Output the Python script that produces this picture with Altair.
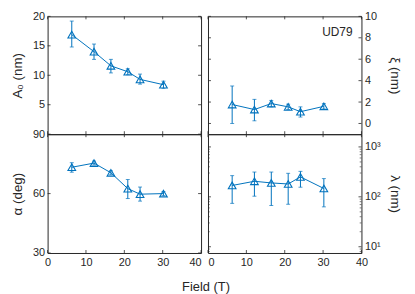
import altair as alt
import pandas as pd

# ---- data ----
field = [6.3, 12.1, 16.5, 20.9, 24.1, 30.2]

A0 = [16.9, 14.0, 11.6, 10.6, 9.3, 8.4]
A0_lo = [14.8, 12.7, 10.4, 10.1, 8.5, 7.8]
A0_hi = [19.2, 15.3, 12.7, 11.1, 10.2, 9.0]

xi = [1.77, 1.3, 1.86, 1.55, 1.1, 1.6]
xi_lo = [0.0, 0.25, 1.55, 1.3, 0.6, 1.35]
xi_hi = [3.5, 2.25, 2.15, 1.8, 1.55, 1.85]

alpha = [73.3, 75.4, 70.5, 62.5, 59.7, 60.0]
alpha_lo = [70.8, 74.4, 69.5, 57.5, 56.2, 59.0]
alpha_hi = [75.6, 76.4, 71.5, 67.1, 63.3, 61.0]

lam = [169, 205, 190, 181, 251, 147]
lam_lo = [74, 103, 67, 71, 156, 63]
lam_hi = [266, 314, 314, 296, 324, 232]

x_ticks = [0, 10, 20, 30, 40]
A0_ticks = [5, 10, 15, 20]
xi_ticks = [0, 2, 4, 6, 8, 10]
alpha_ticks = [30, 60, 90]
lam_major = [10, 100, 1000]
lam_minor = [8, 9, 20, 30, 40, 50, 60, 70, 80, 90,
             200, 300, 400, 500, 600, 700, 800, 900]

BLUE = "#0072BD"
TXT = "#262626"
FONT = "Liberation Sans"
W = 155
H_TOP = 119
H_BOT = 120

xscale = alt.Scale(domain=[0, 40], nice=False, zero=False)


def panel(vals, lo, hi, yscale, yaxis, yticks, height, xaxis, minor=None, note=None):
    df = pd.DataFrame({"field": field, "v": vals, "lo": lo, "hi": hi})
    base = alt.Chart(df)

    def X(f):
        return alt.X(f, scale=xscale, axis=xaxis)

    def Y(f):
        return alt.Y(f, scale=yscale, axis=yaxis)

    line = base.mark_line(color=BLUE, strokeWidth=1).encode(x=X("field:Q"), y=Y("v:Q"))
    err = base.mark_rule(color=BLUE, strokeWidth=1).encode(
        x=X("field:Q"), y=Y("lo:Q"), y2="hi:Q")
    cap_lo = base.mark_tick(color=BLUE, orient="horizontal", size=4, thickness=1).encode(
        x=X("field:Q"), y=Y("lo:Q"))
    cap_hi = base.mark_tick(color=BLUE, orient="horizontal", size=4, thickness=1).encode(
        x=X("field:Q"), y=Y("hi:Q"))
    pts = base.mark_point(shape="triangle-up", filled=False, color=BLUE,
                          size=60, strokeWidth=1.1, opacity=1).encode(
        x=X("field:Q"), y=Y("v:Q"))

    xt = alt.Chart(pd.DataFrame({"t": x_ticks}))
    xt_b = xt.mark_rule(color=TXT, strokeWidth=0.8).encode(
        x=X("t:Q"), y=alt.value(height), y2=alt.value(height - 3))
    xt_t = xt.mark_rule(color=TXT, strokeWidth=0.8).encode(
        x=X("t:Q"), y=alt.value(0), y2=alt.value(3))
    yt = alt.Chart(pd.DataFrame({"t": yticks}))
    yt_l = yt.mark_rule(color=TXT, strokeWidth=0.8).encode(
        y=Y("t:Q"), x=alt.value(0), x2=alt.value(3))
    yt_r = yt.mark_rule(color=TXT, strokeWidth=0.8).encode(
        y=Y("t:Q"), x=alt.value(W), x2=alt.value(W - 3))
    layers = [line, err, cap_lo, cap_hi, pts, xt_b, xt_t, yt_l, yt_r]
    if minor is not None:
        mt = alt.Chart(pd.DataFrame({"t": minor}))
        layers.append(mt.mark_rule(color=TXT, strokeWidth=0.6).encode(
            y=Y("t:Q"), x=alt.value(0), x2=alt.value(1.8)))
        layers.append(mt.mark_rule(color=TXT, strokeWidth=0.6).encode(
            y=Y("t:Q"), x=alt.value(W), x2=alt.value(W - 1.8)))
    if note is not None:
        layers.append(alt.Chart(pd.DataFrame({"s": [note]})).mark_text(
            align="right", baseline="alphabetic", fontSize=12, font=FONT,
            color=TXT).encode(text="s:N", x=alt.value(W - 9), y=alt.value(20)))
    return alt.layer(*layers).properties(width=W, height=height)


left_axis = dict(orient="left", ticks=False, domain=False, grid=False,
                 labelPadding=3, minExtent=17, maxExtent=17, titlePadding=6)
right_axis = dict(orient="right", ticks=False, domain=False, grid=False,
                  labelPadding=3, minExtent=16, maxExtent=16, titlePadding=10)
bottom_left_axis = alt.Axis(
    values=x_ticks, ticks=False, domain=False, grid=False, labelPadding=4,
    labelFlush=False, title=None,
    labelAlign=alt.condition("datum.value == 40", alt.value("right"), alt.value("center")))
bottom_right_axis = alt.Axis(
    values=x_ticks, ticks=False, domain=False, grid=False, labelPadding=4,
    labelFlush=False, title=None,
    labelAlign=alt.condition("datum.value == 0", alt.value("left"), alt.value("center")))

tl = panel(A0, A0_lo, A0_hi,
           alt.Scale(domain=[0, 20], nice=False, zero=False),
           alt.Axis(title="A₀ (nm)", values=A0_ticks, **left_axis),
           A0_ticks, H_TOP, None)
tr = panel(xi, xi_lo, xi_hi,
           alt.Scale(domain=[-1, 10], nice=False, zero=False),
           alt.Axis(title="ξ (nm)", values=xi_ticks, **right_axis),
           xi_ticks, H_TOP, None, note="UD79")
bl = panel(alpha, alpha_lo, alpha_hi,
           alt.Scale(domain=[30, 90], nice=False, zero=False),
           alt.Axis(title="α (deg)", values=alpha_ticks, **left_axis),
           alpha_ticks, H_BOT, bottom_left_axis)
br = panel(lam, lam_lo, lam_hi,
           alt.Scale(type="log", domain=[7.5, 1800], nice=False),
           alt.Axis(title="λ (nm)", values=lam_major,
                    labelExpr="datum.value == 10 ? '10¹' : datum.value == 100 ? '10²' : '10³'",
                    **right_axis),
           lam_major, H_BOT, bottom_right_axis, minor=lam_minor)

chart = alt.concat(
    tl, tr, bl, br, columns=2,
    spacing=alt.RowColnumber(row=0, column=7),
    bounds="flush",
).properties(
    title=alt.TitleParams("Field (T)", orient="bottom", anchor="middle",
                          fontSize=13, font=FONT, fontWeight="normal",
                          color=TXT, offset=13),
    padding={"left": 2, "top": 0, "right": 5, "bottom": 1},
).configure_view(
    stroke=TXT, strokeWidth=1
).configure_axis(
    labelFont=FONT, titleFont=FONT, labelFontSize=11, titleFontSize=13.5,
    labelColor=TXT, titleColor=TXT, titleFontWeight="normal"
)

chart.save("out.html", embed_options={"renderer": "svg", "actions": False})
